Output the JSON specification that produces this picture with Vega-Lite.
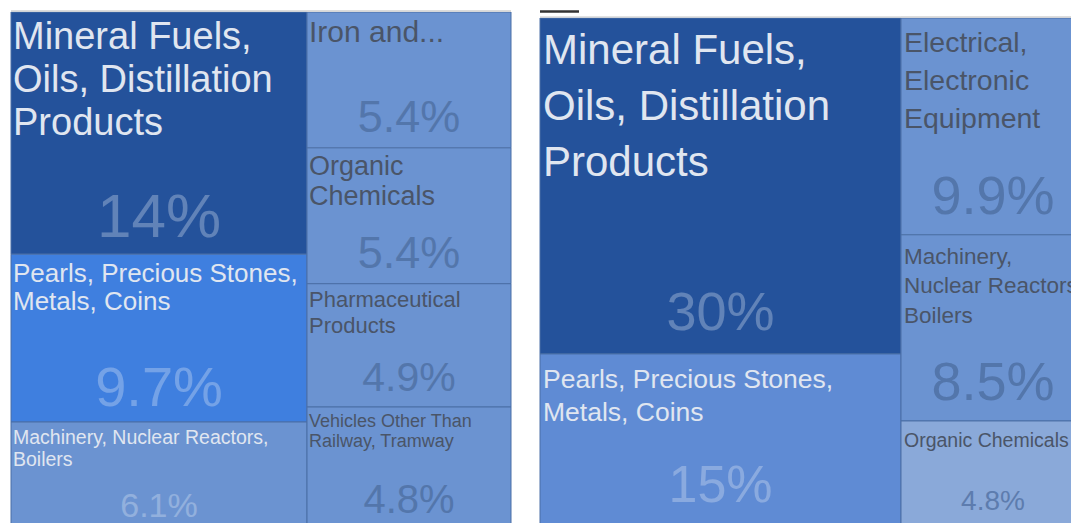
{
  "$schema": "https://vega.github.io/schema/vega-lite/v6.json",
  "padding": {"left": 10, "top": 10, "right": 0, "bottom": 0},
  "background": "white",
  "config": {"view": {"stroke": null}},
  "data": {"values": [
    {"chart": "L", "col": 1, "order": 1, "name": "Mineral Fuels", "label": "Mineral Fuels,\nOils, Distillation\nProducts", "share": 0.14},
    {"chart": "L", "col": 1, "order": 2, "name": "Pearls", "label": "Pearls, Precious Stones,\nMetals, Coins", "share": 0.097},
    {"chart": "L", "col": 1, "order": 3, "name": "Machinery", "label": "Machinery, Nuclear Reactors,\nBoilers", "share": 0.061},
    {"chart": "L", "col": 2, "order": 1, "name": "Iron and Steel", "label": "Iron and...", "share": 0.054},
    {"chart": "L", "col": 2, "order": 2, "name": "Organic Chemicals", "label": "Organic\nChemicals", "share": 0.054},
    {"chart": "L", "col": 2, "order": 3, "name": "Pharmaceutical Products", "label": "Pharmaceutical\nProducts", "share": 0.049},
    {"chart": "L", "col": 2, "order": 4, "name": "Vehicles", "label": "Vehicles Other Than\nRailway, Tramway", "share": 0.048},
    {"chart": "R", "col": 1, "order": 1, "name": "Mineral Fuels", "label": "Mineral Fuels,\nOils, Distillation\nProducts", "share": 0.30},
    {"chart": "R", "col": 1, "order": 2, "name": "Pearls", "label": "Pearls, Precious Stones,\nMetals, Coins", "share": 0.154},
    {"chart": "R", "col": 2, "order": 1, "name": "Electrical", "label": "Electrical,\nElectronic\nEquipment", "share": 0.099},
    {"chart": "R", "col": 2, "order": 2, "name": "Machinery", "label": "Machinery,\nNuclear Reactors,\nBoilers", "share": 0.085},
    {"chart": "R", "col": 2, "order": 3, "name": "Organic Chemicals", "label": "Organic Chemicals", "share": 0.048}
  ]},
  "spacing": 27,
  "resolve": {"scale": {"x": "independent", "y": "independent", "color": "independent", "size": "independent"}},
  "hconcat": [
    {
      "spacing": 0,
      "bounds": "flush",
      "resolve": {"scale": {"x": "independent", "y": "independent", "color": "independent", "size": "independent"}},
      "hconcat": [
        {
          "width": 296, "height": 513,
          "transform": [
            {"filter": "datum.chart === 'L' && datum.col === 1"},
            {"stack": "share", "groupby": ["chart"], "sort": [{"field": "order", "order": "ascending"}], "as": ["v0", "v1"]}
          ],
          "resolve": {"scale": {"size": "independent", "color": "independent"}},
          "layer": [
            {
              "mark": {"type": "rect", "stroke": "#4b6fa6", "strokeWidth": 1},
              "encoding": {
                "x": {"datum": 0, "type": "quantitative", "scale": {"domain": [0, 1], "nice": false, "zero": false}, "axis": null},
                "x2": {"datum": 1},
                "y": {"field": "v0", "type": "quantitative", "scale": {"domain": [-0.001156, 0.29538], "nice": false, "zero": false, "reverse": true}, "axis": null},
                "y2": {"field": "v1"},
                "color": {"field": "name", "type": "nominal", "scale": {"domain": ["Mineral Fuels", "Pearls", "Machinery"], "range": ["#24529b", "#3f7fdf", "#6b93d1"]}, "legend": null}
              }
            },
            {
              "mark": {"type": "rule", "color": "#d9d9d9", "strokeWidth": 1},
              "encoding": {"x": {"datum": 0, "type": "quantitative"}, "x2": {"datum": 1}, "y": {"datum": -0.000578, "type": "quantitative"}}
            },
            {
              "mark": {"type": "text", "align": "left", "baseline": "top", "dx": 2, "dy": 7, "lineBreak": "\n", "font": "Liberation Sans", "color": "#e0e6f0", "lineHeight": {"expr": "datum.order === 1 ? 43 : datum.order === 2 ? 28 : 22"}},
              "encoding": {
                "x": {"datum": 0, "type": "quantitative"},
                "y": {"field": "v0", "type": "quantitative"},
                "text": {"field": "label", "type": "nominal"},
                "size": {"field": "order", "type": "quantitative", "scale": {"domain": [1, 2, 3], "range": [38, 26, 19.5]}, "legend": null}
              }
            },
            {
              "mark": {"type": "text", "align": "center", "baseline": "bottom", "dy": -4, "font": "Liberation Sans", "color": "#eef3fb", "opacity": 0.3},
              "encoding": {
                "x": {"datum": 0.5, "type": "quantitative"},
                "y": {"field": "v1", "type": "quantitative"},
                "text": {"field": "share", "type": "quantitative", "format": ".2p"},
                "size": {"field": "order", "type": "quantitative", "scale": {"domain": [1, 2, 3], "range": [62, 56, 34]}, "legend": null}
              }
            }
          ]
        },
        {
          "width": 204, "height": 513,
          "transform": [
            {"filter": "datum.chart === 'L' && datum.col === 2"},
            {"stack": "share", "groupby": ["chart"], "sort": [{"field": "order", "order": "ascending"}], "as": ["v0", "v1"]}
          ],
          "resolve": {"scale": {"size": "independent", "color": "independent"}},
          "layer": [
            {
              "mark": {"type": "rect", "stroke": "#4b6fa6", "strokeWidth": 1, "color": "#6b93d1"},
              "encoding": {
                "x": {"datum": 0, "type": "quantitative", "scale": {"domain": [0, 1], "nice": false, "zero": false}, "axis": null},
                "x2": {"datum": 1},
                "y": {"field": "v0", "type": "quantitative", "scale": {"domain": [-0.000795, 0.2031], "nice": false, "zero": false, "reverse": true}, "axis": null},
                "y2": {"field": "v1"}
              }
            },
            {
              "mark": {"type": "rule", "color": "#d9d9d9", "strokeWidth": 1},
              "encoding": {"x": {"datum": 0, "type": "quantitative"}, "x2": {"datum": 1}, "y": {"datum": -0.000397, "type": "quantitative"}}
            },
            {
              "mark": {"type": "text", "align": "left", "baseline": "top", "dx": 2, "dy": 6, "lineBreak": "\n", "font": "Liberation Sans", "color": "#4a5568", "lineHeight": {"expr": "datum.order === 2 ? 30 : datum.order === 3 ? 26 : 20"}},
              "encoding": {
                "x": {"datum": 0, "type": "quantitative"},
                "y": {"field": "v0", "type": "quantitative"},
                "text": {"field": "label", "type": "nominal"},
                "size": {"field": "order", "type": "quantitative", "scale": {"domain": [1, 2, 3, 4], "range": [30, 27, 22, 18]}, "legend": null}
              }
            },
            {
              "mark": {"type": "text", "align": "center", "baseline": "bottom", "dy": -7, "font": "Liberation Sans", "color": "#4a6a9c", "opacity": 0.7},
              "encoding": {
                "x": {"datum": 0.5, "type": "quantitative"},
                "y": {"field": "v1", "type": "quantitative"},
                "text": {"field": "share", "type": "quantitative", "format": ".2p"},
                "size": {"field": "order", "type": "quantitative", "scale": {"domain": [1, 2, 3, 4], "range": [45, 45, 41, 40]}, "legend": null}
              }
            }
          ]
        }
      ]
    },
    {
      "spacing": 0,
      "bounds": "flush",
      "resolve": {"scale": {"x": "independent", "y": "independent", "color": "independent", "size": "independent"}},
      "hconcat": [
        {
          "width": 361, "height": 513,
          "transform": [
            {"filter": "datum.chart === 'R' && datum.col === 1"},
            {"stack": "share", "groupby": ["chart"], "sort": [{"field": "order", "order": "ascending"}], "as": ["v0", "v1"]}
          ],
          "resolve": {"scale": {"size": "independent", "color": "independent"}},
          "layer": [
            {
              "mark": {"type": "rect", "stroke": "#4b6fa6", "strokeWidth": 1},
              "encoding": {
                "x": {"datum": 0, "type": "quantitative", "scale": {"domain": [0, 1], "nice": false, "zero": false}, "axis": null},
                "x2": {"datum": 1},
                "y": {"field": "v0", "type": "quantitative", "scale": {"domain": [-0.007143, 0.450893], "nice": false, "zero": false, "reverse": true}, "axis": null},
                "y2": {"field": "v1"},
                "color": {"field": "name", "type": "nominal", "scale": {"domain": ["Mineral Fuels", "Pearls"], "range": ["#24529b", "#5f8bd4"]}, "legend": null}
              }
            },
            {
              "mark": {"type": "rule", "color": "#d9d9d9", "strokeWidth": 1},
              "encoding": {"x": {"datum": 0, "type": "quantitative"}, "x2": {"datum": 1}, "y": {"datum": -0.00089, "type": "quantitative"}}
            },
            {
              "mark": {"type": "rule", "color": "#333333", "strokeWidth": 2},
              "encoding": {"x": {"datum": 0, "type": "quantitative"}, "x2": {"datum": 0.108}, "y": {"datum": -0.0058, "type": "quantitative"}}
            },
            {
              "mark": {"type": "text", "align": "left", "baseline": "top", "dx": 3, "dy": 13, "lineBreak": "\n", "font": "Liberation Sans", "color": "#e0e6f0", "lineHeight": {"expr": "datum.order === 1 ? 56 : 33"}},
              "encoding": {
                "x": {"datum": 0, "type": "quantitative"},
                "y": {"field": "v0", "type": "quantitative"},
                "text": {"field": "label", "type": "nominal"},
                "size": {"field": "order", "type": "quantitative", "scale": {"domain": [1, 2], "range": [42, 26.5]}, "legend": null}
              }
            },
            {
              "mark": {"type": "text", "align": "center", "baseline": "bottom", "dy": -13, "font": "Liberation Sans", "color": "#eef3fb", "opacity": 0.3},
              "encoding": {
                "x": {"datum": 0.5, "type": "quantitative"},
                "y": {"field": "v1", "type": "quantitative"},
                "text": {"field": "share", "type": "quantitative", "format": ".2p"},
                "size": {"field": "order", "type": "quantitative", "scale": {"domain": [1, 2], "range": [54, 52]}, "legend": null}
              }
            }
          ]
        },
        {
          "width": 184, "height": 513,
          "transform": [
            {"filter": "datum.chart === 'R' && datum.col === 2"},
            {"stack": "share", "groupby": ["chart"], "sort": [{"field": "order", "order": "ascending"}], "as": ["v0", "v1"]}
          ],
          "resolve": {"scale": {"size": "independent", "color": "independent"}},
          "layer": [
            {
              "mark": {"type": "rect", "stroke": "#4b6fa6", "strokeWidth": 1},
              "encoding": {
                "x": {"datum": 0, "type": "quantitative", "scale": {"domain": [0, 1], "nice": false, "zero": false}, "axis": null},
                "x2": {"datum": 1},
                "y": {"field": "v0", "type": "quantitative", "scale": {"domain": [-0.003653, 0.230594], "nice": false, "zero": false, "reverse": true}, "axis": null},
                "y2": {"field": "v1"},
                "color": {"field": "name", "type": "nominal", "scale": {"domain": ["Electrical", "Machinery", "Organic Chemicals"], "range": ["#6b93d1", "#6b93d1", "#8aa9d9"]}, "legend": null}
              }
            },
            {
              "mark": {"type": "rule", "color": "#d9d9d9", "strokeWidth": 1},
              "encoding": {"x": {"datum": 0, "type": "quantitative"}, "x2": {"datum": 1}, "y": {"datum": -0.00045, "type": "quantitative"}}
            },
            {
              "mark": {"type": "text", "align": "left", "baseline": "top", "dx": 3, "dy": 11, "lineBreak": "\n", "font": "Liberation Sans", "color": "#4a5568", "lineHeight": {"expr": "datum.order === 1 ? 38 : 29.5"}},
              "encoding": {
                "x": {"datum": 0, "type": "quantitative"},
                "y": {"field": "v0", "type": "quantitative"},
                "text": {"field": "label", "type": "nominal"},
                "size": {"field": "order", "type": "quantitative", "scale": {"domain": [1, 2, 3], "range": [28.5, 22.5, 19.5]}, "legend": null}
              }
            },
            {
              "mark": {"type": "text", "align": "center", "baseline": "bottom", "dy": -10, "font": "Liberation Sans", "color": "#4a6a9c", "opacity": 0.7},
              "encoding": {
                "x": {"datum": 0.5, "type": "quantitative"},
                "y": {"field": "v1", "type": "quantitative"},
                "text": {"field": "share", "type": "quantitative", "format": ".2p"},
                "size": {"field": "order", "type": "quantitative", "scale": {"domain": [1, 2, 3], "range": [54, 54, 28]}, "legend": null}
              }
            }
          ]
        }
      ]
    }
  ]
}
